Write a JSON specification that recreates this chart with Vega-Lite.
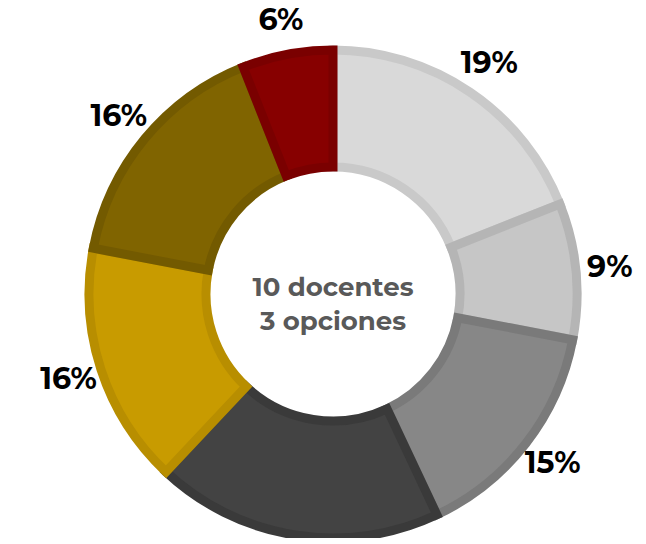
{
  "$schema": "https://vega.github.io/schema/vega-lite/v6.json",
  "width": 614,
  "height": 488,
  "autosize": "none",
  "padding": {"left": 26, "top": 50, "right": 0, "bottom": 0},
  "background": "white",
  "view": {"stroke": null},
  "data": {
    "values": [
      {"idx": 1, "cat": "A", "value": 19, "label": "19%"},
      {"idx": 2, "cat": "B", "value": 9, "label": "9%"},
      {"idx": 3, "cat": "C", "value": 15, "label": "15%"},
      {"idx": 4, "cat": "D", "value": 19, "label": ""},
      {"idx": 5, "cat": "E", "value": 16, "label": "16%"},
      {"idx": 6, "cat": "F", "value": 16, "label": "16%"},
      {"idx": 7, "cat": "G", "value": 6, "label": "6%"}
    ]
  },
  "encoding": {
    "theta": {"field": "value", "type": "quantitative", "stack": true},
    "order": {"field": "idx", "type": "quantitative"}
  },
  "layer": [
    {
      "mark": {"type": "arc", "radius": 244, "radius2": 127, "strokeWidth": 9, "strokeJoin": "miter"},
      "encoding": {
        "color": {
          "field": "cat", "type": "nominal", "legend": null,
          "scale": {"domain": ["A","B","C","D","E","F","G"], "range": ["#d9d9d9","#c6c6c6","#878787","#434343","#c89b00","#806400","#870000"]}
        },
        "stroke": {
          "field": "cat", "type": "nominal", "legend": null,
          "scale": {"domain": ["A","B","C","D","E","F","G"], "range": ["#c9c9c9","#b5b5b5","#7a7a7a","#3a3a3a","#b88e00","#735a00","#7a0000"]}
        }
      }
    },
    {
      "mark": {"type": "text", "radius": 278, "font": "Montserrat, Lato, sans-serif", "fontSize": 30, "fontWeight": "bold", "color": "#000000"},
      "encoding": {"text": {"field": "label", "type": "nominal"}}
    },
    {
      "data": {"values": [{"t": "10 docentes\n3 opciones"}]},
      "mark": {"type": "text", "lineBreak": "\n", "font": "Montserrat, Lato, sans-serif", "fontSize": 26, "fontWeight": "bold", "color": "#595959", "lineHeight": 34, "baseline": "middle", "dy": -6},
      "encoding": {"text": {"field": "t", "type": "nominal"}, "theta": null, "order": null}
    }
  ]
}
